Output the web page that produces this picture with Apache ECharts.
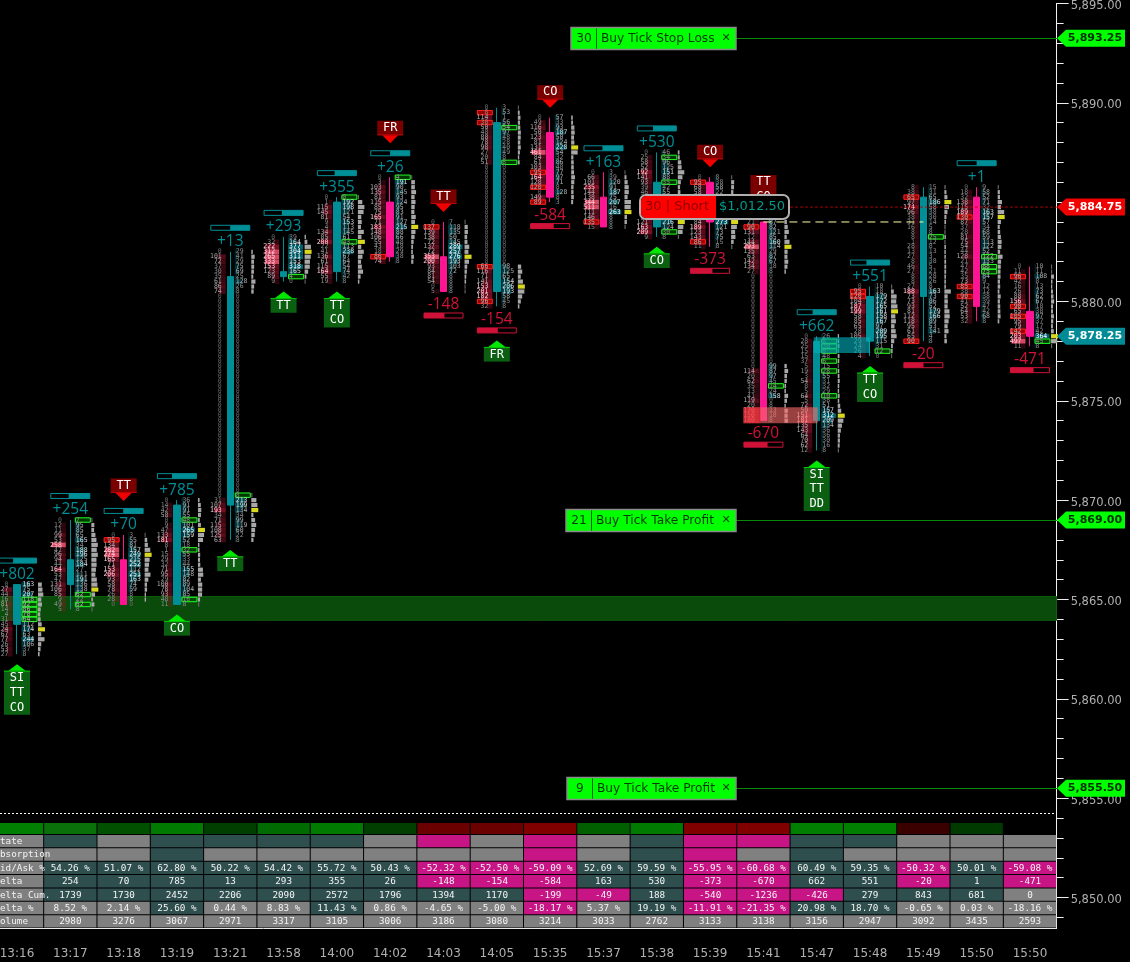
<!DOCTYPE html>
<html><head><meta charset="utf-8">
<style>html,body{margin:0;padding:0;background:#000}#c{width:1130px;height:962px}</style>
<script src="https://cdn.jsdelivr.net/npm/echarts@6/dist/echarts.min.js"></script></head>
<body><div id="c"></div>
<script>
const times=['13:16','13:17','13:18','13:19','13:21','13:58','14:00','14:02','14:03','14:05','15:35','15:37','15:38','15:39','15:41','15:47','15:48','15:49','15:50','15:50'];
const opens =[5863.75,5865.75,5867,5864.75,5869.75,5881.25,5881.5,5885,5882.25,5880.5,5888.5,5885.25,5883.75,5886,5884,5874,5878,5880.25,5885.25,5879.5];
const closes=[5865.75,5867,5864.75,5869.75,5881.25,5881.5,5885,5882.25,5880.5,5889,5885.25,5883.75,5886,5884,5874,5878,5880.25,5885.25,5879.75,5878.25];
const lows  =[5862.25,5864.5,5864.75,5864.75,5868,5881,5881,5882,5880.5,5879.75,5885,5883.75,5883.25,5882.75,5874,5872.5,5877.25,5878,5879,5877.75];
const highs =[5865.75,5869,5868.25,5870,5882.5,5883.25,5885.25,5886.25,5884,5889.75,5889.25,5886.5,5887.5,5886.25,5884,5878.25,5880.75,5885.75,5885.75,5881.75];
const deltas=[802,254,70,785,13,293,355,26,-148,-154,-584,163,530,-373,-670,662,551,-20,1,-471];
const ratio =[60,54.26,51.07,62.80,50.22,54.42,55.72,50.43,52.32,52.50,59.09,52.69,59.59,55.95,60.68,60.49,59.35,50.32,50.01,59.08];
const zeros=n=>Array(n).fill(0);
const bidRows=[
[0,127,44,16,81,14,4,31,45,124,67,77,26,53,27],
[0,12,11,99,53,258,47,96,94,44,164,53,47,131,106,85,9,49,5],
[0,95,134,282,274,165,71,153,206,93,58,78,26,28,0],
[0,14,42,58,0,9,47,133,181,8,1,15,29,32,71,95,29,100,78,93,48,11],
[0,101,72,37,30,35,61,86,74].concat(zeros(41),[31,107,193,34,71,115,108,125,63]),
[0,32,222,312,265,333,153,123,89,9],
[0,1,115,145,81,9,4,134,85,200,22,41,136,61,115,164,55,19],
[0,3,103,135,81,115,85,75,165,71,183,148,106,55,43,18,86,74],
[0,137,139,138,72,137,72,353,200,93,84,81,54,0,5],
[0,8,114,30,50,48,88,78,98,27,20,51].concat(zeros(20),[66,116,71,141,153,201,182,96,32]),
[0,49,116,50,123,81,131,461,84,61,103,95,164,128,120,0,149,89],
[0,66,101,235,144,138,344,511,111,146,135,15],
[0,25,58,52,192,141,93,39,46,33,71,90,55,38,121,163,209,9],
[0,95,68,58,49,62,73,90,55,84,189,123,143,86,11],
[21,90,131,12,144,293,135,63,142,134,27].concat(zeros(19),[114,20,62,35,13,41,119,20,170,150,180]),
[0,28,25,15,15,37,5,19,3,54,8,5,64,5,72,50,151,181,135,143,64,70,62,12],
[0,95,120,104,187,199,58,85,65,28,105,29,24,26,4],
[8,38,65,97,174,96,38,31,16,8,8,1,28,13,27,8,46,27,8,8,27,188,73,73,93,81,112,118,95,61,65,90],
[0,18,32,138,115,189,130,87,37,28,81,75,54,44,128,21,47,42,35,73,85,38,90,41,52,64,53,32],
[0,11,96,42,16,26,88,156,90,65,105,95,79,142,203,497,11]];
const askRows=[
[163,75,207,118,92,86,70,64,112,174,63,244,106,37,8],
[7,95,85,65,165,34,188,196,125,184,27,111,191,136,138,62,22,62,8],
[3,55,81,157,249,215,252,112,251,163,74,59,8,8,0],
[36,91,91,55,48,101,265,159,52,18,32,55,33,44,155,148,82,89,104,85,16,8],
[29,41,29,75,69,25,128,26,8].concat(zeros(40),[8,213,199,134,34,99,119,60,22,8]),
[39,164,377,304,311,153,318,165,4,0],
[8,192,198,121,54,153,113,145,61,43,113,238,67,64,54,74,42,8],
[4,191,90,145,93,124,95,83,91,127,215,88,66,48,18,29,38,8],
[7,118,135,50,145,289,257,276,193,103,72,8,8,8,8],
[3,53,1,56,54,97,48,28,40,49,8,8].concat(zeros(20),[98,125,65,154,206,193,58,45,8]),
[57,33,93,187,50,124,228,54,32,86,48,77,97,71,8,128,8,3],
[3,39,120,91,187,75,207,16,263,8,8,8],
[46,34,96,125,151,88,35,42,55,61,72,48,93,104,216,124,30,8],
[8,38,58,22,38,41,66,54,30,273,121,73,75,15,8],
[87,82,121,85,160,114,29,87,67,18,8].concat(zeros(18),[99,87,97,45,14,24,158,0,8,13,18,8]),
[26,8,30,8,48,6,15,28,55,31,32,29,10,38,51,157,312,209,134,36,36,30,16,8],
[10,18,179,172,165,161,158,167,97,209,195,115,31,12,0],
[15,31,65,186,58,38,30,14,5,8,25,12,8,13,3,38,5,21,28,26,8,163,73,86,52,179,166,89,53,141,4,8],
[9,58,52,71,32,163,157,57,34,68,59,113,122,52,122,133,88,75,84,9,12,12,38,39,47,42,68,8],
[10,11,108,8,13,73,62,67,18,38,97,37,17,42,364,45,8]];
const pocRow=[9,14,4,6,52,3,9,10,7,36,6,8,14,9,5,16,5,3,6,14];
const askBoxes=[[3,4,5,6,7],[0,15,17],[],[4,10,20],[49],[8],[0,9],[0],[],[4,11],[],[],[1,6,16],[],[33],[1,2,3,5,7,12],[13],[10],[14,16,17],[15]];
const bidBoxes=[[],[],[1],[],[],[],[],[16],[1],[1,3,32,39],[11,14,17],[10],[],[1,13],[1],[],[1,2],[2,31],[6,20,22],[2,8,10,13]];
const flagLines=[['SI','TT','CO'],[],['TT'],['CO'],['TT'],['TT'],['TT','CO'],['FR'],['TT'],['FR'],['CO'],[],['CO'],['CO'],['TT','CO'],['SI','TT','DD'],['TT','CO'],[],[],[]];
const flagSell=[0,0,1,0,0,0,0,1,1,0,1,0,0,1,1,0,0,0,0,0];
const zonePrices=[5865.15,5863.95];
const orderQty=[30,21,9];
const orderText=['Buy Tick Stop Loss','Buy Tick Take Profit','Buy Tick Take Profit'];
const orderPrice=[5893.25,5869,5855.5];
const orderLeft=[571,566,567];
const tagPrice=[5893.25,5869,5855.5,5884.75,5878.25];
const tagFill=['#00ff00','#00ff00','#00ff00','#f00000','#008b96'];
const tagText=['#003000','#003000','#003000','#ffffff','#ffffff'];
const positionPrice=5884.75, entryPrice=5884;
const rowLabels=['tate','bsorption','id/Ask %','elta','elta Cum.','elta %','olume'];
const rowBidAsk=['54.26 %','51.07 %','62.80 %','50.22 %','54.42 %','55.72 %','50.43 %','-52.32 %','-52.50 %','-59.09 %','52.69 %','59.59 %','-55.95 %','-60.68 %','60.49 %','59.35 %','-50.32 %','50.01 %','-59.08 %'];
const rowDelta=['254','70','785','13','293','355','26','-148','-154','-584','163','530','-373','-670','662','551','-20','1','-471'];
const rowCum=['1739','1730','2452','2206','2090','2572','1796','1394','1170','-199','-49','188','-540','-1236','-426','279','843','681','0'];
const rowPct=['8.52 %','2.14 %','25.60 %','0.44 %','8.83 %','11.43 %','0.86 %','-4.65 %','-5.00 %','-18.17 %','5.37 %','19.19 %','-11.91 %','-21.35 %','20.98 %','18.70 %','-0.65 %','0.03 %','-18.16 %'];
const rowVol=['2980','3276','3067','2971','3317','3105','3006','3186','3080','3214','3033','2762','3133','3138','3156','2947','3092','3435','2593'];
const cellState=['DGDDDDGMGMGDMMDDGGG','GGDGGGGGGMGDMGDGGGG','DDDDDDDMMMDDMMDDMDM','DDDDDDDMMMDDMMDDMDM','DDDDDDDDDMMDMMMDDDG','GGDGGDGGGMGDMMDDGGG','GGGGGGGGGGGGGGGGGGG'];
const statusColors=['#007f00','#0a700a','#005000','#007a00','#003f00','#006b00','#007a00','#003f00','#6b0000','#6b0000','#800000','#006000','#007a00','#800000','#800000','#007f00','#007f00','#3a0000','#003a00',''];

const cellFill={G:'#808080',D:'#2f4f4f',M:'#c71585'};
const tableRows=[null,null,rowBidAsk,rowDelta,rowCum,rowPct,rowVol];
const MONO='"DejaVu Sans Mono",monospace', SANS='"DejaVu Sans",sans-serif';
const TEAL='#008f96';

const fpData=[];
bidRows.forEach((bids,c)=>bids.forEach((b,k)=>{
  fpData.push([c,highs[c]-k*0.25,b,askRows[c][k]||0,k]);
}));
const colPeak=bidRows.map((bids,c)=>Math.max(...bids.map((b,k)=>b+(askRows[c][k]||0))));
function renderFoot(p,api){
  const c=api.value(0),price=api.value(1),b=api.value(2),a=api.value(3),k=api.value(4);
  const pt=api.coord([c,price]),cx=pt[0],y=pt[1],kids=[];
  if(b>0){
    const w=4+10*Math.min(b/250,1);
    kids.push({type:'rect',shape:{x:cx-4.5-w,y:y-2.4,width:w,height:4.8},style:{fill:b>=250?'rgba(225,75,105,0.95)':'rgba(170,20,50,'+(0.25+0.55*b/250)+')'}});
  }
  if(a>0){
    const w=1+14*Math.min(a/300,1);
    kids.push({type:'rect',shape:{x:cx+4.5,y:y-2.4,width:w,height:4.8},style:{fill:'rgba(0,120,135,'+(0.25+0.55*Math.min(a/300,1))+')'}});
  }
  if(bidBoxes[c].includes(k))kids.push({type:'rect',shape:{x:cx-19.5,y:y-2.2,width:15,height:4.4},style:{fill:'rgba(170,0,0,0.9)',stroke:'#ff2020',lineWidth:1}});
  if(askBoxes[c].includes(k))kids.push({type:'rect',shape:{x:cx+5,y:y-2.2,width:15,height:4.4},style:{fill:'rgba(0,70,0,0.8)',stroke:'#22ff22',lineWidth:1}});
  const col=v=>v===0?'#666':v<50?'#8c8c8c':v<150?'#ababab':v<250?'#dcdcdc':'#ffffff';
  kids.push({type:'text',style:{x:cx-8.5,y:y,text:String(b),fill:b>=150?'#ffd0da':col(b),font:'6.5px '+MONO,align:'right',verticalAlign:'middle'}});
  kids.push({type:'text',style:{x:cx+5.5,y:y,text:String(a),fill:col(a),font:'6.5px '+MONO,align:'left',verticalAlign:'middle'}});
  const vol=a+b;
  if(vol>0){
    const poc=k===pocRow[c],w=poc?7:Math.min(6.5,1+5.5*vol/colPeak[c]);
    kids.push({type:'rect',shape:{x:cx+21,y:y-2.1,width:w,height:4.2},style:{fill:poc?'#d8d820':vol<25?'#666':'#a8a8a8'}});
  }
  return {type:'group',children:kids};
}
function renderDelta(p,api){
  const c=api.value(0),d=deltas[c];
  const up=d>=0,anchor=api.coord([c,up?highs[c]:lows[c]]),cx=anchor[0],y0=anchor[1];
  const ty=up?y0-10:y0+13,by=up?y0-24:y0+24;
  const w=39,col=up?TEAL:'#d01238',fw=w*ratio[c]/100,kids=[];
  kids.push({type:'rect',shape:{x:cx-w/2,y:by-2.5,width:w,height:5},style:{fill:'#000',stroke:col,lineWidth:1}});
  kids.push({type:'rect',shape:{x:up?cx+w/2-fw:cx-w/2,y:by-2.5,width:fw,height:5},style:{fill:col}});
  kids.push({type:'text',style:{x:cx,y:ty,text:(up?'+':'')+d,fill:col,font:'15.5px "Open Sans",sans-serif',align:'center',verticalAlign:'middle'}});
  return {type:'group',children:kids};
}
function renderFlag(p,api){
  const c=api.value(0),lines=flagLines[c],n=lines.length,kids=[];
  const sell=flagSell[c],d=deltas[c];
  if(sell){
    const pt=api.coord([c,highs[c]]),cx=pt[0],tip=pt[1]-(d<0?10:34),base=tip-8,top=base-14.5*n;
    kids.push({type:'rect',shape:{x:cx-13,y:top,width:26,height:base-top},style:{fill:'#7a0000'}});
    kids.push({type:'rect',shape:{x:cx-13,y:base-1,width:26,height:1},style:{fill:'#c00000'}});
    kids.push({type:'polygon',shape:{points:[[cx-8,base],[cx+8,base],[cx,tip]]},style:{fill:'#f00000'}});
    lines.forEach((t,i)=>kids.push({type:'text',style:{x:cx,y:top+7+i*14.5,text:t,fill:'#fff',font:'12px '+MONO,align:'center',verticalAlign:'middle'}}));
  }else{
    const pt=api.coord([c,lows[c]]),cx=pt[0],tip=pt[1]+(d>=0?10:34),base=tip+6.5,bot=base+14.7*n;
    kids.push({type:'rect',shape:{x:cx-13,y:base,width:26,height:bot-base},style:{fill:'#0a5f10'}});
    kids.push({type:'rect',shape:{x:cx-13,y:base,width:26,height:1},style:{fill:'#00c800'}});
    kids.push({type:'polygon',shape:{points:[[cx-8.5,base],[cx+8.5,base],[cx,tip]]},style:{fill:'#00e800'}});
    lines.forEach((t,i)=>kids.push({type:'text',style:{x:cx,y:base+7.5+i*14.7,text:t,fill:'#fff',font:'12px '+MONO,align:'center',verticalAlign:'middle'}}));
  }
  return {type:'group',children:kids};
}
function renderZones(p,api){
  const y1=api.coord([0,zonePrices[0]])[1],y2=api.coord([0,zonePrices[1]])[1],right=1056.6;
  return {type:'rect',shape:{x:0,y:y1,width:right,height:y2-y1},style:{fill:'#0a4a0a',stroke:'#0d5a0d',lineWidth:1}};
}
function renderBoxes(p,api){
  const cx14=api.coord([14,5874])[0],cx15=api.coord([15,5874])[0],cx16=api.coord([16,5874])[0];
  const r1=api.coord([0,5874.67])[1],r2=api.coord([0,5873.87])[1],t1=api.coord([0,5878.2])[1],t2=api.coord([0,5877.4])[1];
  return {type:'group',children:[
    {type:'rect',shape:{x:cx14-20,y:r1,width:cx15-cx14+21,height:r2-r1},style:{fill:'rgba(245,105,105,0.62)'}},
    {type:'rect',shape:{x:cx14-20,y:r1,width:17,height:r2-r1},style:{fill:'rgba(230,30,40,0.55)'}},
    {type:'rect',shape:{x:cx15-3,y:t1,width:cx16-cx15+3,height:t2-t1},style:{fill:'rgba(0,175,185,0.62)'}}
  ]};
}
function renderOrders(p,api){
  const kids=[];
  orderPrice.forEach((pr,i)=>{
    const y=Math.round(api.coord([0,pr])[1])+0.5,l=orderLeft[i],r=736;
    kids.push({type:'line',shape:{x1:r,y1:y,x2:1057,y2:y},style:{stroke:'#0a8a0a',lineWidth:1}});
    kids.push({type:'rect',shape:{x:l,y:y-11,width:r-l,height:22},style:{fill:'#00ff00',stroke:'#8a8a8a',lineWidth:1.5}});
    kids.push({type:'line',shape:{x1:l+25.5,y1:y-10,x2:l+25.5,y2:y+10},style:{stroke:'#006000',lineWidth:1}});
    kids.push({type:'text',style:{x:l+13,y:y,text:String(orderQty[i]),fill:'#043a04',font:'12.2px '+SANS,align:'center',verticalAlign:'middle'}});
    kids.push({type:'text',style:{x:l+30,y:y,text:orderText[i],fill:'#043a04',font:'12.2px '+SANS,align:'left',verticalAlign:'middle'}});
    kids.push({type:'text',style:{x:726,y:y,text:'✕',fill:'#043a04',font:'bold 11px '+SANS,align:'center',verticalAlign:'middle'}});
  });
  return {type:'group',children:kids};
}
function renderTags(p,api){
  const kids=[];
  tagPrice.forEach((pr,i)=>{
    const y=api.coord([0,pr])[1];
    kids.push({type:'polygon',shape:{points:[[1057,y],[1066,y-8.5],[1125,y-8.5],[1125,y+8.5],[1066,y+8.5]]},style:{fill:tagFill[i]}});
    kids.push({type:'text',style:{x:1095,y:y,text:pr.toLocaleString('en-US',{minimumFractionDigits:2}),fill:tagText[i],font:'bold 11px '+SANS,align:'center',verticalAlign:'middle'}});
  });
  return {type:'group',children:kids};
}
function renderPosition(p,api){
  const y=api.coord([0,positionPrice])[1],ye=api.coord([0,entryPrice])[1],xe=api.coord([14,entryPrice])[0],xe2=api.coord([17,entryPrice])[0];
  return {type:'group',children:[
    {type:'line',shape:{x1:790,y1:y,x2:1057,y2:y},style:{stroke:'rgba(190,0,0,0.85)',lineWidth:1,lineDash:[3,2]}},
    {type:'line',shape:{x1:xe,y1:ye,x2:xe2,y2:ye},style:{stroke:'#ffffa0',lineWidth:1,lineDash:[8,5]}},
    {type:'rect',shape:{x:640,y:y-12,width:149,height:24,r:6},style:{fill:'#000',stroke:'#b0b0b0',lineWidth:2}},
    {type:'rect',shape:{x:641,y:y-11,width:75,height:22,r:[5,0,0,5]},style:{fill:'#ff0000'}},
    {type:'text',style:{x:677,y:y,text:'30 | Short',fill:'#8b0000',font:'13px '+SANS,align:'center',verticalAlign:'middle'}},
    {type:'text',style:{x:752,y:y,text:'$1,012.50',fill:'#009a8a',font:'13px '+SANS,align:'center',verticalAlign:'middle'}}
  ]};
}
const tableData=[];
for(let c=times.length-1;c>=0;c--){for(let r=0;r<8;r++)tableData.push([c,r]);}
function renderCell(p,api){
  const c=api.value(0),r=api.value(1),pt=api.coord([c,r]),sz=api.size([1,1]),w=sz[0],h=sz[1],cx=pt[0],cy=pt[1];
  const x=cx-w/2,y=cy-h/2;
  if(r===0){
    if(!statusColors[c])return null;
    return {type:'rect',shape:{x:x+0.5,y:y+1.5,width:w-1,height:h-2.5},style:{fill:statusColors[c]}};
  }
  const row=r-1,kids=[];
  if(c===0){
    kids.push({type:'rect',shape:{x:x,y:y,width:w-0.5,height:h-1},style:{fill:'#808080'}});
    kids.push({type:'text',style:{x:0,y:cy,text:rowLabels[row],fill:'#f4f4f4',font:'9.3px '+MONO,align:'left',verticalAlign:'middle'}});
  }else{
    kids.push({type:'rect',shape:{x:x+0.5,y:y,width:w-1,height:h-1},style:{fill:cellFill[cellState[row][c-1]]}});
    if(tableRows[row])kids.push({type:'text',style:{x:cx,y:cy,text:tableRows[row][c-1],fill:'#f4f4f4',font:'9.3px '+MONO,align:'center',verticalAlign:'middle'}});
  }
  return {type:'group',children:kids};
}
const oneRow=[[0,0]];
const GL=-9.65, GR=73.35;
const chart=echarts.init(document.getElementById('c'),null,{renderer:'canvas'});
chart.setOption({
  animation:false,backgroundColor:'#000',
  grid:[{left:GL,right:GR,top:3.4,height:993.5,outerBoundsMode:'none'},{left:GL,right:GR,top:821.6,height:106.9,outerBoundsMode:'none'}],
  xAxis:[
    {type:'category',gridIndex:0,data:times,show:false},
    {type:'category',gridIndex:1,data:times,axisLine:{lineStyle:{color:'#e8e8e8',width:1}},
     axisTick:{alignWithLabel:true,length:12,lineStyle:{color:'#e8e8e8'}},
     axisLabel:{color:'#b0b0b0',fontFamily:'DejaVu Sans',fontSize:12,margin:19,interval:0}}
  ],
  yAxis:[
    {type:'value',gridIndex:0,position:'right',min:5845,max:5895,interval:5,
     axisLine:{show:true,lineStyle:{color:'#f0f0f0',width:1}},
     axisTick:{show:true,length:12,lineStyle:{color:'#f0f0f0'}},
     minorTick:{show:true,splitNumber:5,length:7,lineStyle:{color:'#f0f0f0'}},
     splitLine:{show:false},
     axisLabel:{color:'#b0b0b0',fontFamily:'DejaVu Sans',fontSize:11.5,margin:14,verticalAlign:'top',lineHeight:5,showMinLabel:false,
       formatter:v=>v.toLocaleString('en-US',{minimumFractionDigits:2})}},
    {type:'category',gridIndex:1,inverse:true,show:false,data:['s','1','2','3','4','5','6','7']}
  ],
  graphic:[
    {type:'rect',z:50,shape:{x:1050,y:929,width:80,height:33},style:{fill:'#000'}},
    {type:'line',z:50,shape:{x1:0,y1:813.5,x2:1057,y2:813.5},style:{stroke:'#ffffff',lineWidth:1,lineDash:[2,2]}}
  ],
  series:[
    {type:'custom',name:'zone',z:1,data:oneRow,renderItem:renderZones},
    {type:'custom',name:'footprint',z:2,data:fpData,encode:{x:0,y:1},renderItem:renderFoot,progressive:0},
    {type:'candlestick',name:'price',z:3,barWidth:7,
      itemStyle:{color:TEAL,color0:'#ff1493',borderColor:TEAL,borderColor0:'#ff1493',borderWidth:1},
      data:times.map((t,i)=>[opens[i],closes[i],lows[i],highs[i]])},
    {type:'custom',name:'boxes',z:4,data:oneRow,renderItem:renderBoxes},
    {type:'custom',name:'delta',z:5,data:times.map((t,i)=>[i,highs[i]]),encode:{x:0,y:1},renderItem:renderDelta},
    {type:'custom',name:'flags',z:6,data:times.map((t,i)=>[i,highs[i]]).filter(d=>flagLines[d[0]].length),encode:{x:0,y:1},renderItem:renderFlag},
    {type:'custom',name:'position',z:7,data:oneRow,renderItem:renderPosition},
    {type:'custom',name:'orders',z:8,data:oneRow,renderItem:renderOrders},
    {type:'custom',name:'tags',z:9,data:oneRow,renderItem:renderTags},
    {type:'custom',name:'table',z:10,xAxisIndex:1,yAxisIndex:1,data:tableData,encode:{x:0,y:1},renderItem:renderCell}
  ]
});
</script></body></html>
